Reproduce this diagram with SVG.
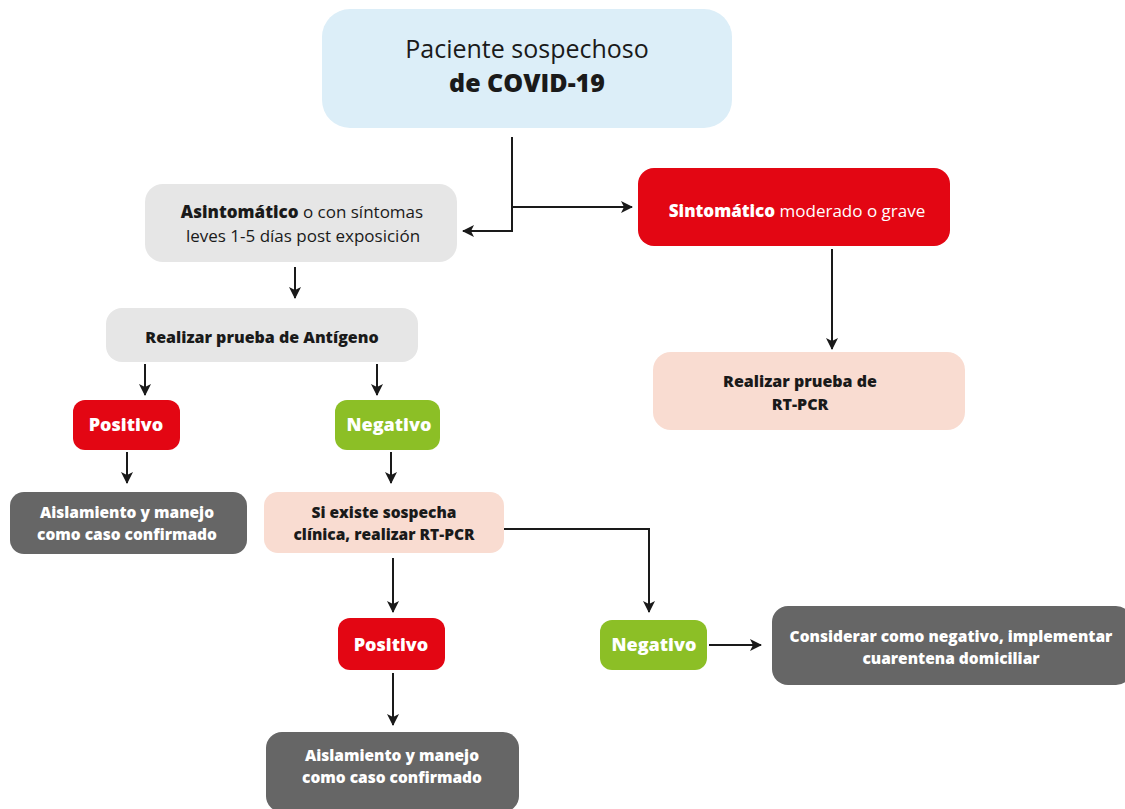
<svg xmlns="http://www.w3.org/2000/svg" width="1125" height="809" viewBox="0 0 1125 809">
<style>
text{font-family:"Open Sans","Noto Sans","Liberation Sans",sans-serif;text-anchor:middle}
.b{font-weight:800}
.r{font-weight:400}
.w{fill:#ffffff}
.k{fill:#1a1a1a}
.ln{fill:none;stroke:#1a1a1a;stroke-width:2}
.blue{fill:#dceef8}
.grey{fill:#e6e6e6}
.red{fill:#e30613}
.green{fill:#8cbf26}
.pink{fill:#f9dcd1}
.dark{fill:#666666}
.s{font-size:15.5px}
.t{font-size:18px}
</style>
<defs>
<marker id="ah" viewBox="0 0 12 12" refX="11" refY="6" markerWidth="12" markerHeight="12" markerUnits="userSpaceOnUse" orient="auto">
<path d="M0,0 L12,6 L0,12 L3,6 Z" fill="#1a1a1a"/>
</marker>
</defs>
<rect width="1125" height="809" fill="#ffffff"/>
<g id="connectors">
<path class="ln" d="M512,137 V231 H463" marker-end="url(#ah)"/>
<path class="ln" d="M512,207 H632" marker-end="url(#ah)"/>
<path class="ln" d="M295,267 V298" marker-end="url(#ah)"/>
<path class="ln" d="M145,364 V395" marker-end="url(#ah)"/>
<path class="ln" d="M377,364 V395" marker-end="url(#ah)"/>
<path class="ln" d="M832,249 V349" marker-end="url(#ah)"/>
<path class="ln" d="M127,452 V483" marker-end="url(#ah)"/>
<path class="ln" d="M391,452 V483" marker-end="url(#ah)"/>
<path class="ln" d="M504,529 H649 V612" marker-end="url(#ah)"/>
<path class="ln" d="M393,558 V612" marker-end="url(#ah)"/>
<path class="ln" d="M393,673 V725" marker-end="url(#ah)"/>
<path class="ln" d="M709,645 H761" marker-end="url(#ah)"/>
</g>
<g id="n-paciente">
<rect class="blue" x="322" y="9" width="410" height="119" rx="28"/>
<text class="r k" x="527" y="58" font-size="25">Paciente sospechoso</text>
<text class="b k" x="527" y="92" font-size="25">de COVID-19</text>
</g>
<g id="n-asintomatico">
<rect class="grey" x="145" y="184" width="312" height="78" rx="18"/>
<text class="k" x="302" y="218" font-size="17"><tspan class="b">Asintomático</tspan><tspan class="r"> o con síntomas</tspan></text>
<text class="r k" x="303" y="242" font-size="17">leves 1-5 días post exposición</text>
</g>
<g id="n-sintomatico">
<rect class="red" x="638" y="168" width="312" height="78" rx="16"/>
<text class="w" x="797" y="217" font-size="17"><tspan class="b">Sintomático</tspan><tspan class="r"> moderado o grave</tspan></text>
</g>
<g id="n-antigeno">
<rect class="grey" x="106" y="308" width="312" height="54" rx="16"/>
<text class="b k" x="262" y="343" font-size="16">Realizar prueba de Antígeno</text>
</g>
<g id="n-rtpcr">
<rect class="pink" x="653" y="352" width="312" height="78" rx="18"/>
<text class="b k" x="800" y="387" font-size="16">Realizar prueba de</text>
<text class="b k" x="800" y="410" font-size="16">RT-PCR</text>
</g>
<g id="n-positivo1">
<rect class="red" x="73" y="400" width="107" height="50" rx="12"/>
<text class="b w t" x="126" y="431">Positivo</text>
</g>
<g id="n-negativo1">
<rect class="green" x="335" y="400" width="105" height="50" rx="12"/>
<text class="b w t" x="389" y="431">Negativo</text>
</g>
<g id="n-aislamiento1">
<rect class="dark" x="10" y="492" width="237" height="62" rx="14"/>
<text class="b w s" x="127" y="518">Aislamiento y manejo</text>
<text class="b w s" x="127" y="540">como caso confirmado</text>
</g>
<g id="n-siexiste">
<rect class="pink" x="264" y="492" width="240" height="61" rx="14"/>
<text class="b k s" x="384" y="518">Si existe sospecha</text>
<text class="b k s" x="384" y="540">clínica, realizar RT-PCR</text>
</g>
<g id="n-positivo2">
<rect class="red" x="338" y="618" width="107" height="52" rx="12"/>
<text class="b w t" x="391" y="651">Positivo</text>
</g>
<g id="n-negativo2">
<rect class="green" x="600" y="620" width="107" height="50" rx="12"/>
<text class="b w t" x="654" y="651">Negativo</text>
</g>
<g id="n-considerar">
<rect class="dark" x="772" y="606" width="360" height="79" rx="16"/>
<text class="b w s" x="951" y="642">Considerar como negativo, implementar</text>
<text class="b w s" x="951" y="664">cuarentena domiciliar</text>
</g>
<g id="n-aislamiento2">
<rect class="dark" x="266" y="732" width="253" height="80" rx="16"/>
<text class="b w s" x="392" y="761">Aislamiento y manejo</text>
<text class="b w s" x="392" y="783">como caso confirmado</text>
</g>
</svg>
